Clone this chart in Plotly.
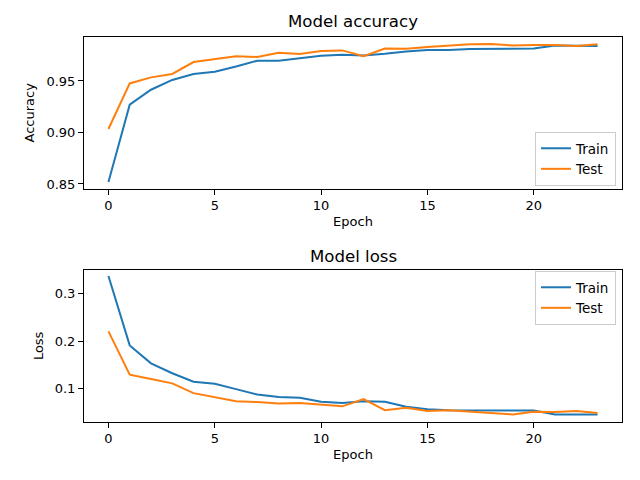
import plotly.graph_objects as go

epochs = list(range(24))
train_acc = [0.852, 0.927, 0.9415, 0.951, 0.9568, 0.959, 0.964, 0.9697, 0.9697, 0.972, 0.9746, 0.9755,
             0.9748, 0.9765, 0.9787, 0.980, 0.980, 0.981, 0.981, 0.9816, 0.9816, 0.9845, 0.9843, 0.984]
test_acc = [0.9034, 0.9476, 0.9535, 0.9568, 0.9684, 0.971, 0.974, 0.9733, 0.9775, 0.9762, 0.9791, 0.9797,
            0.974, 0.9815, 0.9812, 0.983, 0.9843, 0.9856, 0.986, 0.9845, 0.985, 0.985, 0.984, 0.9856]
train_loss = [0.338, 0.191, 0.153, 0.132, 0.114, 0.110, 0.0985, 0.087, 0.082, 0.080, 0.0716, 0.069,
              0.073, 0.0716, 0.061, 0.056, 0.054, 0.0534, 0.0534, 0.052, 0.053, 0.045, 0.045, 0.045]
test_loss = [0.2207, 0.129, 0.120, 0.1106, 0.090, 0.0816, 0.073, 0.071, 0.068, 0.069, 0.065, 0.062,
             0.0773, 0.054, 0.059, 0.052, 0.054, 0.0513, 0.0484, 0.045, 0.0504, 0.050, 0.052, 0.0477]

BLUE = "#1f77b4"
ORANGE = "#ff7f0e"
FONT = "DejaVu Sans"

fig = go.Figure()
fig.add_trace(go.Scatter(x=epochs, y=train_acc, mode="lines", name="Train",
                         line=dict(color=BLUE, width=2), xaxis="x", yaxis="y", legend="legend"))
fig.add_trace(go.Scatter(x=epochs, y=test_acc, mode="lines", name="Test",
                         line=dict(color=ORANGE, width=2), xaxis="x", yaxis="y", legend="legend"))
fig.add_trace(go.Scatter(x=epochs, y=train_loss, mode="lines", name="Train",
                         line=dict(color=BLUE, width=2), xaxis="x2", yaxis="y2", legend="legend2"))
fig.add_trace(go.Scatter(x=epochs, y=test_loss, mode="lines", name="Test",
                         line=dict(color=ORANGE, width=2), xaxis="x2", yaxis="y2", legend="legend2"))

axis_common = dict(showline=True, linecolor="black", linewidth=1, mirror=True,
                   ticks="outside", ticklen=5, tickwidth=1, tickcolor="black",
                   showgrid=False, zeroline=False, automargin=False,
                   tickfont=dict(family=FONT, size=13, color="black"))

xdom = [84 / 640, 622 / 640]
fig.update_layout(
    width=640, height=480,
    margin=dict(l=0, r=0, t=0, b=0, autoexpand=False),
    paper_bgcolor="white", plot_bgcolor="white",
    font=dict(family=FONT, size=13, color="black"),
    xaxis=dict(domain=xdom, range=[-1.15, 24.15], anchor="y", tickvals=[0, 5, 10, 15, 20],
               title=dict(text="Epoch", standoff=4, font=dict(family=FONT, size=13)), **axis_common),
    yaxis=dict(domain=[1 - 188.5 / 480, 1 - 37 / 480], range=[0.8456, 0.9927], anchor="x",
               tickvals=[0.85, 0.90, 0.95], ticktext=["0.85", "0.90", "0.95"],
               title=dict(text="Accuracy", standoff=8, font=dict(family=FONT, size=13)), **axis_common),
    xaxis2=dict(domain=xdom, range=[-1.15, 24.15], anchor="y2", tickvals=[0, 5, 10, 15, 20],
                title=dict(text="Epoch", standoff=4, font=dict(family=FONT, size=13)), **axis_common),
    yaxis2=dict(domain=[1 - 421.7 / 480, 1 - 270 / 480], range=[0.0295, 0.3506], anchor="x2",
                tickvals=[0.1, 0.2, 0.3], ticktext=["0.1", "0.2", "0.3"],
                title=dict(text="Loss", standoff=8, font=dict(family=FONT, size=13)), **axis_common),
    legend=dict(x=616 / 640, y=1 - 186 / 480, xanchor="right", yanchor="bottom",
                bgcolor="rgba(255,255,255,0.8)", bordercolor="#cccccc", borderwidth=1,
                font=dict(family=FONT, size=13.5), itemwidth=30, tracegroupgap=0),
    legend2=dict(x=616 / 640, y=1 - 271 / 480, xanchor="right", yanchor="top",
                 bgcolor="rgba(255,255,255,0.8)", bordercolor="#cccccc", borderwidth=1,
                 font=dict(family=FONT, size=13.5), itemwidth=30, tracegroupgap=0),
    annotations=[
        dict(text="Model accuracy", x=(xdom[0] + xdom[1]) / 2, y=1 - 22 / 480, xref="paper", yref="paper",
             showarrow=False, font=dict(family=FONT, size=16.6, color="black"), xanchor="center", yanchor="middle"),
        dict(text="Model loss", x=(xdom[0] + xdom[1]) / 2, y=1 - 256 / 480, xref="paper", yref="paper",
             showarrow=False, font=dict(family=FONT, size=16.6, color="black"), xanchor="center", yanchor="middle"),
    ],
)

fig.write_html("out.html", config={"displayModeBar": False},
               post_script="document.body.style.margin='0';document.body.style.overflow='hidden';")
